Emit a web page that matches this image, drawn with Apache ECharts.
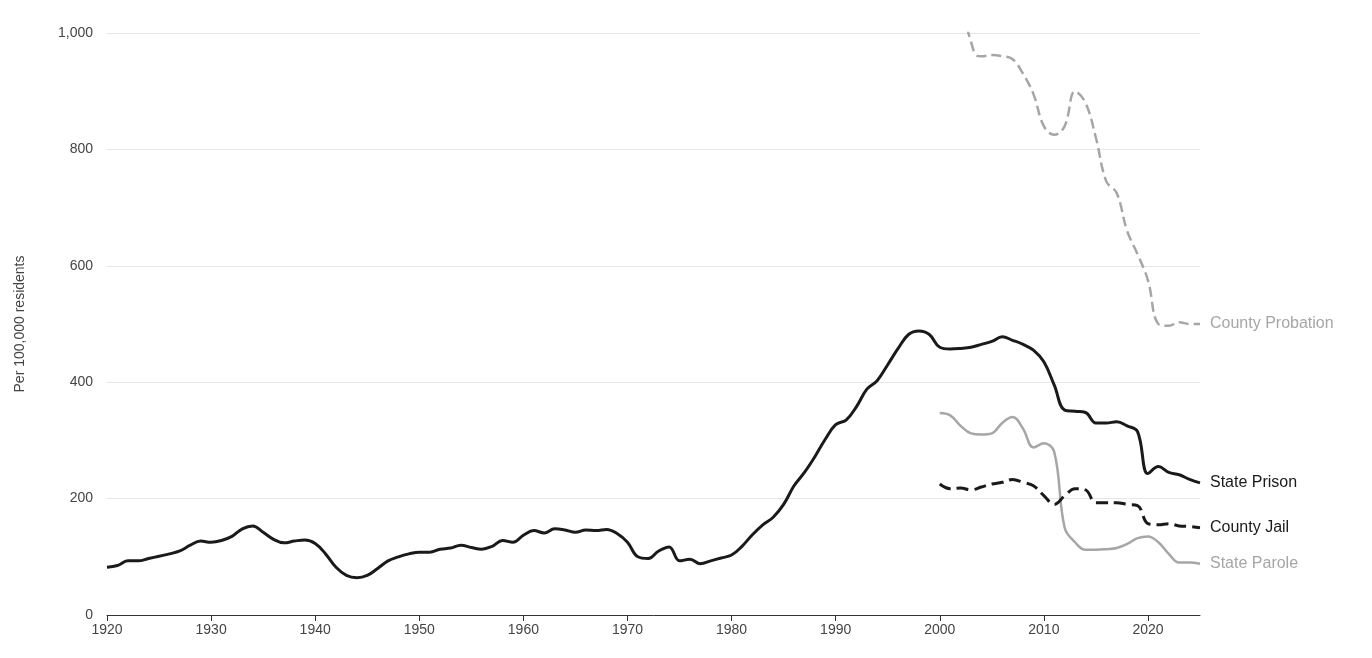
<!DOCTYPE html>
<html><head><meta charset="utf-8">
<script src="https://cdn.jsdelivr.net/npm/echarts@6/dist/echarts.min.js"></script>
<style>html,body{margin:0;padding:0;background:#fff}#c{width:1372px;height:658px}</style>
</head><body><div id="c"></div>
<script>
const prisonStart = 1920;
const statePrison = [82,85,93,93,97,101,105,110,120,127,125,128,135,148,153,142,130,124,127,129,123,105,82,68,64,68,80,93,100,105,108,108,113,115,120,116,113,118,128,125,137,145,141,148,146,142,146,145,147,140,125,100,97,110,117,93,96,88,93,98,103,118,138,155,168,190,222,245,272,302,327,335,358,388,403,430,458,482,488,482,460,457,458,460,465,470,478,472,465,455,435,395,352,350,348,330,330,332,325,315,243,255,245,241,233,227];
const countyJail = [225,217,218,215,220,225,228,233,228,222,205,190,205,217,215,193,193,193,190,188,157,155,157,153,152,150];
const stateParole = [347,343,325,312,310,312,330,340,320,288,295,280,150,125,112,112,113,115,122,132,135,125,105,90,90,88];
const probationYears = [2002.6,2003,2003.5,2004,2005,2006,2007,2008,2009,2010,2011,2012,2013,2014,2015,2016,2017,2018,2019,2020,2021,2022,2023,2024,2025];
const countyProbation = [1010,985,962,960,962,960,955,930,895,840,825,840,900,880,820,745,725,660,620,575,500,497,503,500,500];
const names = ['State Prison','County Jail','State Parole','County Probation'];

const pairs = (start, arr) => arr.map((v,i)=>[start+i, v]);
const font = 'Helvetica, Arial, "Liberation Sans", sans-serif';
function mk(name, data, color, type, lblColor){
  return {name, type:'line', data, smooth:0.4, showSymbol:false, clip:true,
    lineStyle:{color, width: color==='#1a1a1a'?3:2.5, type},
    itemStyle:{color},
    endLabel:{show:true, formatter:name, color:lblColor, fontSize:16, fontFamily:font, distance:10},
    emphasis:{disabled:true}};
}
const chart = echarts.init(document.getElementById('c'));
chart.setOption({
  animation:false,
  grid:{left:107,right:172,top:33,bottom:43},
  xAxis:{type:'value',min:1920,max:2025,interval:10,
    axisLine:{lineStyle:{color:'#333'}},axisTick:{show:true,length:6,lineStyle:{color:'#333'}},
    splitLine:{show:false},
    axisLabel:{color:'#444',fontSize:14,fontFamily:font,formatter:v=>String(v),showMaxLabel:false}},
  yAxis:{type:'value',min:0,max:1000,interval:200,
    name:'Per 100,000 residents',nameLocation:'middle',nameGap:80,nameRotate:90,
    nameTextStyle:{color:'#444',fontSize:14,fontFamily:font},
    axisLine:{show:false},axisTick:{show:false},
    splitLine:{lineStyle:{color:'#e6e6e6'}},
    axisLabel:{color:'#444',fontSize:14,fontFamily:font,margin:14}},
  series:[
    mk(names[3], probationYears.map((y,i)=>[y,countyProbation[i]]), '#a6a6a6','dashed','#a6a6a6'),
    mk(names[2], pairs(2000,stateParole), '#a6a6a6','solid','#a6a6a6'),
    mk(names[1], pairs(2000,countyJail), '#1a1a1a','dashed','#1a1a1a'),
    mk(names[0], pairs(prisonStart,statePrison), '#1a1a1a','solid','#1a1a1a')
  ]
});
</script></body></html>
